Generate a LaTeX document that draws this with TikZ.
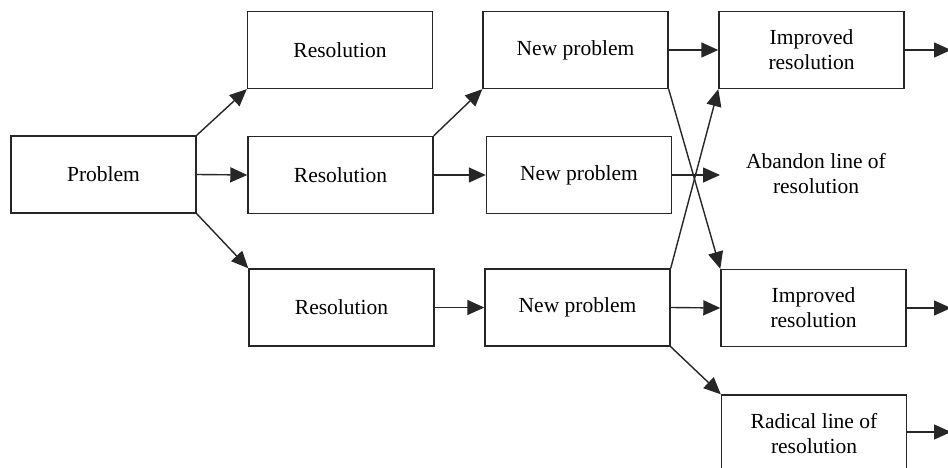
\documentclass[tikz,border=0pt]{standalone}
\usepackage{fontspec}
\setmainfont{Liberation Serif}
\usetikzlibrary{arrows.meta}
\begin{document}
\begin{tikzpicture}[x=1pt,y=-1pt,
  box/.style={draw=black!85,line width=1.4pt,rectangle,minimum width=185pt,minimum height=77pt,inner sep=0pt,align=center,font=\fontsize{21.5}{25}\selectfont},
  lbl/.style={inner sep=0pt,align=center,font=\fontsize{21.5}{25}\selectfont},
  conn/.style={draw=black!85,line width=1.4pt,-{Triangle[length=17pt,width=15pt]}}]
\useasboundingbox (0,0) rectangle (948,468);
\clip (0,0) rectangle (948,468);
\fill[white] (0,0) rectangle (948,468);
\node[box] (P) at (103.5,174.5) {Problem};
\node[box] (R1) at (340,50) {Resolution};
\node[box] (R2) at (340.5,175) {Resolution};
\node[box] (R3) at (341.5,307.5) {Resolution};
\node[box] (N1) at (575.5,50) {New problem};
\node[box] (N2) at (579,175) {New problem};
\node[box] (N3) at (577.5,307.5) {New problem};
\node[box] (I1) at (811.5,50) {Improved\\resolution};
\node[box] (I2) at (813.5,308) {Improved\\resolution};
\node[box] (Rad) at (814,433.5) {Radical line of\\resolution};
\node[lbl] (Ab) at (816,174) {Abandon line of\\resolution};
\coordinate (abtip) at (720,175);
\coordinate (e1) at (951,50);
\coordinate (e2) at (951,308);
\coordinate (e3) at (951,432);
\draw[conn] (P.north east) -- (R1.south west);
\draw[conn] (P.east) -- (R2.west);
\draw[conn] (P.south east) -- (R3.north west);
\draw[conn] (R2.north east) -- (N1.south west);
\draw[conn] (R2.east) -- (N2.west);
\draw[conn] (R3.east) -- (N3.west);
\draw[conn] (N1.east) -- (I1.west);
\draw[conn] (N1.south east) -- (I2.north west);
\draw[conn] (N3.north east) -- (I1.south west);
\draw[conn] (N2.east) -- (abtip);
\draw[conn] (N3.east) -- (I2.west);
\draw[conn] (N3.south east) -- (Rad.north west);
\draw[conn] (I1.east) -- (e1);
\draw[conn] (I2.east) -- (e2);
\draw[conn] (Rad.east |- e3) -- (e3);
\end{tikzpicture}
\end{document}
